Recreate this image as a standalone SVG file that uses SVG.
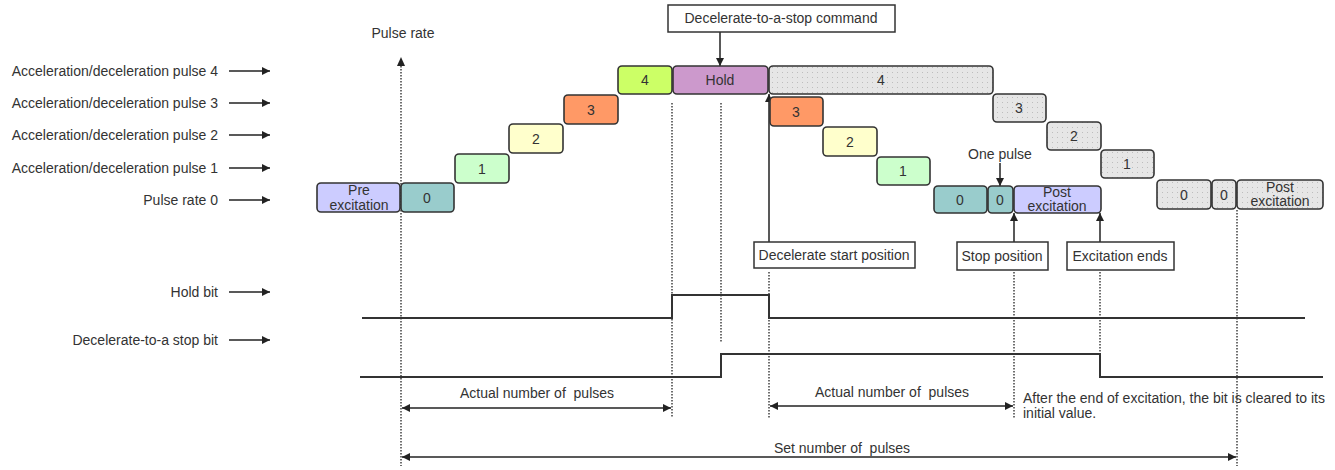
<svg xmlns="http://www.w3.org/2000/svg" width="1335" height="470" viewBox="0 0 1335 470">
<defs>
<marker id="ah" viewBox="0 0 10 10" refX="10" refY="5" markerWidth="8" markerHeight="8" markerUnits="userSpaceOnUse" orient="auto-start-reverse">
<path d="M0,0 L10,5 L0,10 z" fill="#222"/>
</marker>
<pattern id="dots" width="5" height="5" patternUnits="userSpaceOnUse">
<rect width="5" height="5" fill="#e6e6e6"/>
<rect x="2" y="2" width="1" height="1" fill="#bdbdbd"/>
</pattern>
<style>
text{font-family:"Liberation Sans",Arial,sans-serif;fill:#333;font-size:14px}
.lbl{text-anchor:end}
.c{text-anchor:middle}
.pre-ws{white-space:pre}
.box{stroke:#333;stroke-width:1.6}
.pre{fill:#ccccff}.z{fill:#99cccc}.p1{fill:#ccffcc}.p2{fill:#ffffcc}.p3{fill:#ff9966}.p4{fill:#ccff66}.hold{fill:#cc99cc}.g{fill:url(#dots)}
.ln{stroke:#222;stroke-width:1.5;fill:none}
.dot{stroke:#333;stroke-width:1.4;stroke-dasharray:1.5 1.5;fill:none}
.wave{stroke:#333;stroke-width:2;fill:none}
.cb{fill:#fff;stroke:#333;stroke-width:1.5}
</style>
</defs>
<rect width="1335" height="470" fill="#fff"/>

<g id="row-labels">
<text class="lbl" x="218" y="76">Acceleration/deceleration pulse 4</text>
<text class="lbl" x="218" y="108">Acceleration/deceleration pulse 3</text>
<text class="lbl" x="218" y="140">Acceleration/deceleration pulse 2</text>
<text class="lbl" x="218" y="173">Acceleration/deceleration pulse 1</text>
<text class="lbl" x="218" y="205">Pulse rate 0</text>
<text class="lbl" x="218" y="297">Hold bit</text>
<text class="lbl" x="218" y="345">Decelerate-to-a stop bit</text>
<text class="c" x="403" y="38">Pulse rate</text>
</g>

<g id="connectors">
<line class="ln" x1="229" y1="71" x2="270" y2="71" marker-end="url(#ah)"/>
<line class="ln" x1="229" y1="103" x2="270" y2="103" marker-end="url(#ah)"/>
<line class="ln" x1="229" y1="135" x2="270" y2="135" marker-end="url(#ah)"/>
<line class="ln" x1="229" y1="168" x2="270" y2="168" marker-end="url(#ah)"/>
<line class="ln" x1="229" y1="200" x2="270" y2="200" marker-end="url(#ah)"/>
<line class="ln" x1="229" y1="292" x2="270" y2="292" marker-end="url(#ah)"/>
<line class="ln" x1="229" y1="340" x2="270" y2="340" marker-end="url(#ah)"/>
<line class="dot" x1="401" y1="66" x2="401" y2="466"/>
<path d="M397,66 L401,57 L405,66 z" fill="#222"/>
<line class="dot" x1="672" y1="103" x2="672" y2="418"/>
<line class="dot" x1="721" y1="103" x2="721" y2="342"/>
<line class="dot" x1="769" y1="272" x2="769" y2="418"/>
<line class="dot" x1="1014" y1="272" x2="1014" y2="418"/>
<line class="dot" x1="1100" y1="272" x2="1100" y2="354"/>
<line class="dot" x1="1237" y1="210" x2="1237" y2="466"/>
<line class="ln" x1="720" y1="32" x2="720" y2="66" marker-end="url(#ah)"/>
<line class="ln" x1="769" y1="242" x2="769" y2="94" marker-end="url(#ah)"/>
<line class="ln" x1="1000" y1="163" x2="1000" y2="186" marker-end="url(#ah)"/>
<line class="ln" x1="1014" y1="242" x2="1014" y2="213" marker-end="url(#ah)"/>
<line class="ln" x1="1100" y1="242" x2="1100" y2="213" marker-end="url(#ah)"/>
<polyline class="wave" points="362,318 672,318 672,295 769,295 769,318 1305,318"/>
<polyline class="wave" points="360,377 721,377 721,354 1100,354 1100,377 1323,377"/>
<line class="ln" x1="402" y1="408" x2="671" y2="408" marker-start="url(#ah)" marker-end="url(#ah)"/>
<line class="ln" x1="770" y1="406" x2="1013" y2="406" marker-start="url(#ah)" marker-end="url(#ah)"/>
<line class="ln" x1="402" y1="457" x2="1236" y2="457" marker-start="url(#ah)" marker-end="url(#ah)"/>
</g>

<g id="accel">
<rect class="box pre" x="317" y="183" width="83" height="29" rx="4"/>
<text class="c" x="359" y="195">Pre</text><text class="c" x="359" y="210">excitation</text>
<rect class="box z" x="401" y="183" width="53" height="29" rx="4"/><text class="c" x="427" y="203">0</text>
<rect class="box p1" x="455" y="154" width="54" height="29" rx="4"/><text class="c" x="482" y="174">1</text>
<rect class="box p2" x="509" y="124" width="54" height="29" rx="4"/><text class="c" x="536" y="144">2</text>
<rect class="box p3" x="564" y="95" width="54" height="29" rx="4"/><text class="c" x="591" y="115">3</text>
<rect class="box p4" x="618" y="66" width="54" height="28" rx="4"/><text class="c" x="645" y="85">4</text>
</g>

<g id="hold">
<rect class="box hold" x="673" y="66" width="95" height="28" rx="4"/><text class="c" x="720" y="85">Hold</text>
</g>

<g id="decel">
<rect class="box p3" x="770" y="97" width="53" height="29" rx="4"/><text class="c" x="796" y="117">3</text>
<rect class="box p2" x="823" y="127" width="54" height="29" rx="4"/><text class="c" x="850" y="147">2</text>
<rect class="box p1" x="877" y="157" width="53" height="28" rx="4"/><text class="c" x="903" y="176">1</text>
<rect class="box z" x="934" y="186" width="53" height="27" rx="4"/><text class="c" x="960" y="205">0</text>
<rect class="box z" x="988" y="186" width="25" height="27" rx="4"/><text class="c" x="1000" y="205">0</text>
<rect class="box pre" x="1014" y="186" width="87" height="27" rx="4"/>
<text class="c" x="1057" y="197">Post</text><text class="c" x="1057" y="211">excitation</text>
</g>

<g id="set-profile">
<rect class="box g" x="769" y="66" width="224" height="28" rx="4"/><text class="c" x="881" y="85">4</text>
<rect class="box g" x="993" y="94" width="53" height="28" rx="4"/><text class="c" x="1019" y="113">3</text>
<rect class="box g" x="1047" y="122" width="54" height="28" rx="4"/><text class="c" x="1074" y="141">2</text>
<rect class="box g" x="1101" y="150" width="53" height="28" rx="4"/><text class="c" x="1127" y="169">1</text>
<rect class="box g" x="1157" y="180" width="54" height="29" rx="4"/><text class="c" x="1184" y="200">0</text>
<rect class="box g" x="1212" y="180" width="24" height="29" rx="4"/><text class="c" x="1224" y="200">0</text>
<rect class="box g" x="1237" y="180" width="86" height="29" rx="4"/>
<text class="c" x="1280" y="192">Post</text><text class="c" x="1280" y="206">excitation</text>
</g>

<g id="callouts">
<rect class="cb" x="668" y="5" width="227" height="27"/>
<text class="c" x="781" y="23">Decelerate-to-a-stop command</text>
<rect class="cb" x="754" y="242" width="161" height="26"/>
<text class="c" x="834" y="260">Decelerate start position</text>
<rect class="cb" x="957" y="242" width="91" height="28"/>
<text class="c" x="1002" y="261">Stop position</text>
<rect class="cb" x="1067" y="242" width="107" height="28"/>
<text class="c" x="1120" y="261">Excitation ends</text>
<text class="c" x="1000" y="159">One pulse</text>
</g>

<g id="notes">
<text class="c pre-ws" x="537" y="398">Actual number of  pulses</text>
<text class="c pre-ws" x="892" y="397">Actual number of  pulses</text>
<text x="1023" y="403">After the end of excitation, the bit is cleared to its</text>
<text x="1023" y="418">initial value.</text>
<text class="c pre-ws" x="842" y="453">Set number of  pulses</text>
</g>
</svg>
